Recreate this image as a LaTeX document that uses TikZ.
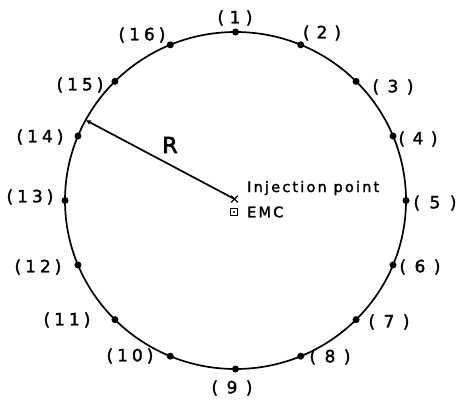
\documentclass[tikz,border=0pt]{standalone}
\usepackage{fontspec}
\setmainfont{DejaVu Sans}[FakeBold=1.8]
\usetikzlibrary{arrows.meta,shapes.misc,calc}
\newcommand\lone[2][8.5pt]{(\kern#1#2\kern#1)}
\newcommand\ltwo[2]{(\kern4pt#1\kern4pt#2\kern4pt)}
\begin{document}
\begin{tikzpicture}[x=1pt,y=-1pt,
  dot/.style={circle,fill,inner sep=0pt,minimum size=7pt},
  lab/.style={font=\fontsize{17}{17}\selectfont,inner sep=0pt},
  small/.style={font=\fontsize{14.5}{14.5}\selectfont\addfontfeature{LetterSpace=15},inner sep=0pt,anchor=west},
  ring/.style={line width=1.7pt}]
\useasboundingbox (0,0) rectangle (457,399);
\coordinate (C) at (235.5,200.5);
\draw[ring] (C) ellipse[x radius=170.5,y radius=168.5];
\foreach \k in {1,...,16}{
  \node[dot] (p\k) at ($(C)+({170.5*sin(22.5*(\k-1))},{-168.5*cos(22.5*(\k-1))})$) {};
}
% labels
\node[lab] (l1)  at (235,18)  {\lone[5.5pt]{1}};
\node[lab] (l2)  at (322,33)  {\lone[7pt]{2}};
\node[lab] (l3)  at (393,87)  {\lone{3}};
\node[lab] (l4)  at (418,139) {\lone[7.5pt]{4}};
\node[lab] (l5)  at (435,203) {\lone[9.5pt]{5}};
\node[lab] (l6)  at (420,267) {\lone{6}};
\node[lab] (l7)  at (389,322) {\lone{7}};
\node[lab] (l8)  at (330,357) {\lone{8}};
\node[lab] (l9)  at (232,388) {\lone{9}};
\node[lab] (l10) at (130,356) {\ltwo{1}{0}};
\node[lab] (l11) at (67,320)  {\ltwo{1}{1}};
\node[lab] (l12) at (38,267)  {\ltwo{1}{2}};
\node[lab] (l13) at (30,197)  {\ltwo{1}{3}};
\node[lab] (l14) at (40,137)  {\ltwo{1}{4}};
\node[lab] (l15) at (80,85)   {\ltwo{1}{5}};
\node[lab] (l16) at (142,35)  {\ltwo{1}{6}};
% injection point and EMC
\node[cross out,draw,line width=1.2pt,minimum size=5.5pt,inner sep=0pt] (inj) at (234.5,199) {};
\node[draw,line width=1pt,minimum size=6.5pt,inner sep=0pt] (emc) at (234,212) {};
\fill (emc.center) circle[radius=1.1pt];
\node[small] (tinj) at (247,188) {Injection point};
\node[small] (temc) at (247,212) {EMC};
% radius
\coordinate (rim) at ($(C)+({170.5*cos(151.5)},{-168.5*sin(151.5)})$);
\draw[line width=1.7pt,-{Latex[length=5pt,width=5pt]}] (inj.center) -- (rim);
\node[font=\fontsize{22}{22}\selectfont,inner sep=0pt] (R) at (170,145) {\addfontfeature{FakeBold=3}R};
\end{tikzpicture}
\end{document}
